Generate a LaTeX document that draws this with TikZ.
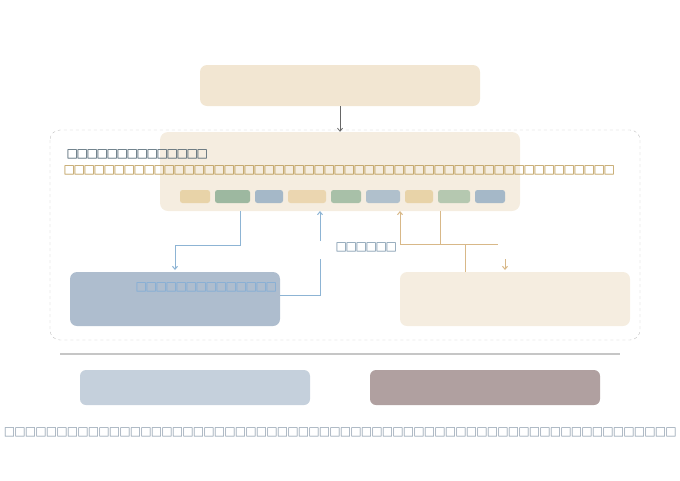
\documentclass[tikz,border=0pt]{standalone}
\usepackage{fontspec}
\newfontfamily\dejavu{DejaVu Sans}
\usetikzlibrary{arrows.meta}
\newcommand\tofu[2]{\foreach\i in {1,...,#1}{\makebox[#2pt]{\dejavu □}}}
\definecolor{topc}{HTML}{F2E6D2}
\definecolor{mainc}{HTML}{F5EDE0}
\definecolor{bluec}{HTML}{AEBDCE}
\definecolor{blueln}{HTML}{8DB4D4}
\definecolor{orln}{HTML}{D8B888}
\definecolor{titc}{HTML}{2F4858}
\definecolor{subc}{HTML}{B08A3A}
\definecolor{btc}{HTML}{7AAAD8}
\definecolor{labc}{HTML}{6A88A0}
\definecolor{footc}{HTML}{8A9AAA}
\definecolor{b1c}{HTML}{C5D0DC}
\definecolor{b2c}{HTML}{B0A0A0}
\tikzset{
  x=1pt,y=-1pt,
  blk/.style={draw=none,rounded corners=7pt,inner sep=0pt},
  tx/.style={inner sep=0pt,anchor=west,font=\fontsize{12}{12}\selectfont},
  bln/.style={draw=blueln,line width=1pt},
  oln/.style={draw=orln,line width=1pt},
  arr/.style={-{Straight Barb[length=3pt,width=5pt]}}
}
\begin{document}
\begin{tikzpicture}
\useasboundingbox (0,0) rectangle (680,480);
\fill[topc,rounded corners=7pt] (200,65) rectangle (480,106);
\node[blk,minimum width=280pt,minimum height=41pt] (top) at (340,85.5) {};
\draw[gray!50,dashed,rounded corners=10pt] (50,130) rectangle (640,340);
\fill[mainc,rounded corners=8pt] (160,132) rectangle (520,211);
\node[blk,minimum width=360pt,minimum height=79pt] (main) at (340,171.5) {};
\draw[arr,black!60,line width=.8pt] (top.south) -- (main.north);
\foreach \a/\b/\c in {180/210/E8D3A8,215/250/9DB8A0,255/283/A5B8C8,288/326/EBD6B0,331/361/A8C0A8,366/400/B0C0CC,405/433/E8D3A8,438/470/B5C8B0,475/505/A5B8C8}{
  \definecolor{chipc}{HTML}{\c}
  \fill[chipc,rounded corners=2.5pt] (\a,190) rectangle (\b,203);}
\node[tx,text=titc] (title) at (67,154) {\tofu{14}{10}};
\node[tx,text=subc] (sub) at (64,170) {\tofu{55}{10}};
\fill[bluec,rounded corners=7pt] (70,272) rectangle (280,326);
\node[blk,minimum width=210pt,minimum height=54pt] (blue) at (175,299) {};
\fill[mainc,rounded corners=7pt] (400,272) rectangle (630,326);
\node[blk,minimum width=230pt,minimum height=54pt] (right) at (515,299) {};
\node[tx,text=btc] (bt) at (136,287) {\tofu{14}{10}};
\node[tx,text=labc] (lab) at (336,247) {\tofu{6}{10}};
\draw[bln,arr] (240,211) |- (175,245) -- (175,270);
\draw[bln] (280,295) -| (320,259);
\draw[bln,arr] (320,241) -- (320,211);
\draw[oln,arr] (465,272) |- (400,244) -- (400,211);
\draw[oln] (440,211) |- (498,244);
\coordinate (ra) at (505,259);
\draw[oln,arr] (ra) -- (505,270);
\draw[gray!45,line width=1.5pt] (60,354) -- (620,354);
\fill[b1c,rounded corners=6pt] (80,370) rectangle (310,405);
\node[blk,minimum width=230pt,minimum height=35pt] (b1) at (195,387.5) {};
\fill[b2c,rounded corners=6pt] (370,370) rectangle (600,405);
\node[blk,minimum width=230pt,minimum height=35pt] (b2) at (485,387.5) {};
\node[tx,text=footc] (foot) at (4,432) {\tofu{64}{10.5}};
\end{tikzpicture}
\end{document}
